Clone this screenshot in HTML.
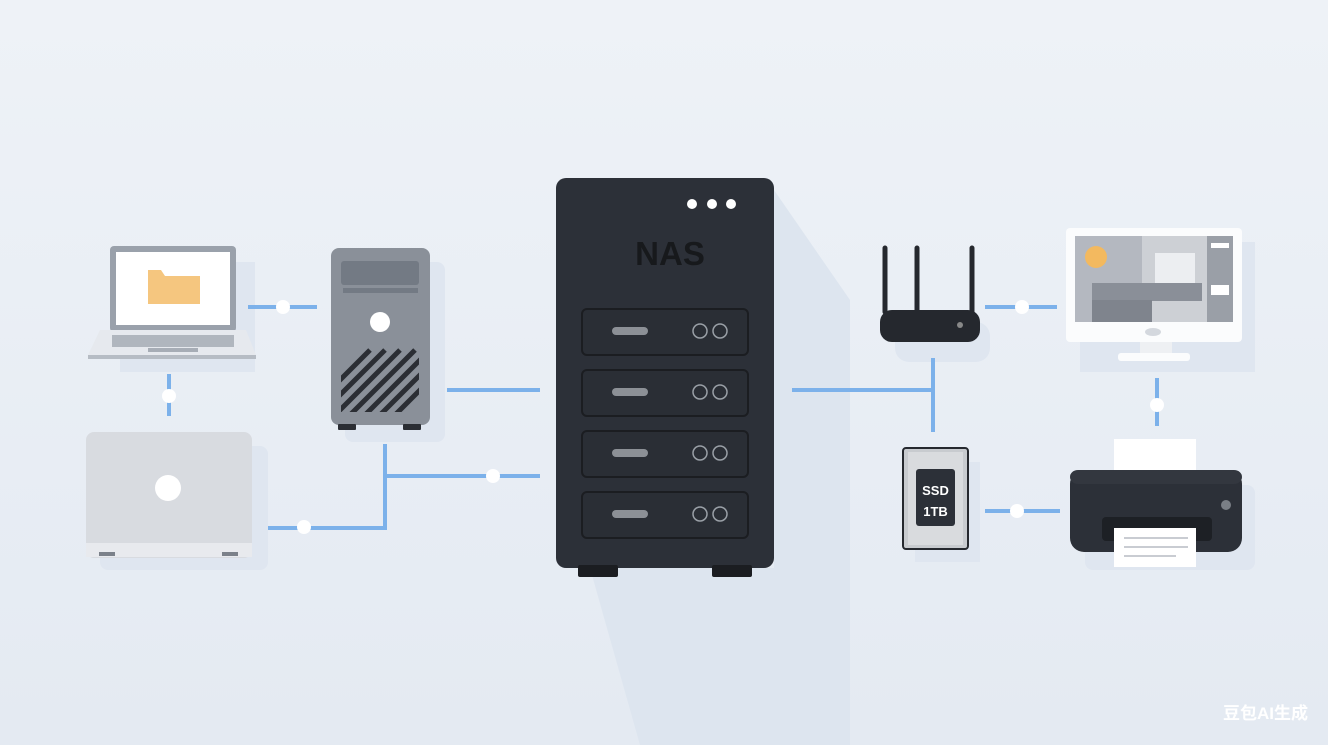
<!DOCTYPE html>
<html><head><meta charset="utf-8"><style>
html,body{margin:0;padding:0;width:1328px;height:745px;overflow:hidden;background:#e8edf3}
svg{display:block}
</style></head><body>
<svg width="1328" height="745" viewBox="0 0 1328 745" xmlns="http://www.w3.org/2000/svg">
<defs>
<linearGradient id="bg" x1="0" y1="0" x2="0" y2="1">
<stop offset="0" stop-color="#eef2f7"/><stop offset="1" stop-color="#e4eaf2"/></linearGradient>
</defs>
<rect width="1328" height="745" fill="url(#bg)"/>
<!-- shadows -->
<polygon points="774,190 850,300 850,745 640,745 590,568 774,568" fill="#dde5ef"/>
<rect x="120" y="262" width="135" height="110" fill="#dfe6f0"/>
<rect x="345" y="262" width="100" height="180" rx="8" fill="#dfe6f0"/>
<rect x="100" y="446" width="168" height="124" rx="8" fill="#dfe6f0"/>
<rect x="1080" y="242" width="175" height="130" fill="#dfe6f0"/>
<rect x="1085" y="485" width="170" height="85" rx="8" fill="#dfe6f0"/>
<rect x="915" y="462" width="65" height="100" fill="#dfe6f0"/>
<rect x="895" y="322" width="95" height="40" rx="14" fill="#dfe6f0"/>
<!-- connectors -->
<g stroke="#7cb1ea" stroke-width="4" fill="none">
<path d="M248 307H317"/><path d="M169 374V416"/>
<path d="M447 390H540"/><path d="M385 444V528H268"/><path d="M385 476H540"/>
<path d="M792 390H933"/><path d="M933 358V432"/>
<path d="M985 307H1057"/><path d="M1157 378V426"/><path d="M985 511H1060"/>
</g>
<g fill="#fff">
<circle cx="283" cy="307" r="7"/><circle cx="169" cy="396" r="7"/>
<circle cx="304" cy="527" r="7"/><circle cx="493" cy="476" r="7"/>
<circle cx="1022" cy="307" r="7"/><circle cx="1157" cy="405" r="7"/><circle cx="1017" cy="511" r="7"/>
</g>
<!-- laptop -->
<rect x="110" y="246" width="126" height="86" rx="4" fill="#9aa1ab"/>
<rect x="116" y="252" width="114" height="73" fill="#fff"/>
<path d="M148 270h13l4 6h35v28h-52z" fill="#f5c67f"/>
<path d="M100 330h146l10 25h-168z" fill="#e6e9ee"/>
<rect x="88" y="355" width="168" height="4" fill="#b6bcc4"/>
<rect x="112" y="335" width="122" height="12" fill="#b0b6be"/>
<rect x="148" y="348" width="50" height="4" fill="#a7adb6"/>
<!-- tower -->
<rect x="331" y="248" width="99" height="177" rx="8" fill="#8a9099"/>
<rect x="341" y="261" width="78" height="24" rx="3" fill="#737a84"/>
<rect x="343" y="288" width="75" height="5" fill="#737a84"/>
<circle cx="380" cy="322" r="10" fill="#fff"/>
<clipPath id="vent"><rect x="341" y="348" width="78" height="64"/></clipPath>
<rect x="341" y="348" width="78" height="64" fill="#8a9099"/>
<g clip-path="url(#vent)" stroke="#2b2e34" stroke-width="5">
<path d="M330 420L400 350M345 420L415 350M360 420L430 350M375 420L445 350M390 420L460 350M315 420L385 350M300 420L370 350"/>
</g>
<rect x="338" y="424" width="18" height="6" rx="1" fill="#2b2e34"/><rect x="403" y="424" width="18" height="6" rx="1" fill="#2b2e34"/>
<!-- drive box -->
<rect x="86" y="432" width="166" height="126" rx="8" fill="#d8dbe0"/>
<rect x="86" y="543" width="166" height="14" fill="#e8eaee"/>
<circle cx="168" cy="488" r="13" fill="#fff"/>
<rect x="99" y="552" width="16" height="4" fill="#7b818a"/><rect x="222" y="552" width="16" height="4" fill="#7b818a"/>
<!-- NAS -->
<rect x="556" y="178" width="218" height="390" rx="10" fill="#2c3038"/>
<circle cx="692" cy="204" r="5" fill="#fff"/><circle cx="712" cy="204" r="5" fill="#fff"/><circle cx="731" cy="204" r="5" fill="#fff"/>
<text x="670" y="265" text-anchor="middle" font-family="Liberation Sans,sans-serif" font-weight="bold" font-size="33" fill="#17191c">NAS</text>
<g id="bay">
<rect x="582" y="309" width="166" height="46" rx="5" fill="#2a2e35" stroke="#1b1d21" stroke-width="2"/>
<rect x="612" y="327" width="36" height="8" rx="4" fill="#8c9096"/>
<circle cx="700" cy="331" r="7" fill="none" stroke="#9aa0a7" stroke-width="1.5"/>
<circle cx="720" cy="331" r="7" fill="none" stroke="#9aa0a7" stroke-width="1.5"/>
</g>
<use href="#bay" y="61"/><use href="#bay" y="122"/><use href="#bay" y="183"/>
<rect x="578" y="565" width="40" height="12" rx="2" fill="#1b1d21"/><rect x="712" y="565" width="40" height="12" rx="2" fill="#1b1d21"/>
<!-- router -->
<g stroke="#25282e" stroke-width="5" stroke-linecap="round"><path d="M885 248V312M917 248V312M972 248V312"/></g>
<rect x="880" y="310" width="100" height="32" rx="12" fill="#25282e"/>
<circle cx="960" cy="325" r="3" fill="#888"/>
<!-- monitor -->
<rect x="1066" y="228" width="176" height="114" rx="4" fill="#fbfcfd"/>
<rect x="1075" y="236" width="158" height="86" fill="#b4b8c0"/>
<rect x="1142" y="236" width="65" height="86" fill="#cdd0d5"/>
<rect x="1207" y="236" width="26" height="86" fill="#9a9fa7"/>
<rect x="1155" y="253" width="40" height="30" fill="#eceef1"/>
<rect x="1092" y="283" width="110" height="18" fill="#8a8f98"/>
<rect x="1092" y="300" width="60" height="22" fill="#7f848d"/>
<circle cx="1096" cy="257" r="11" fill="#f3b95f"/>
<rect x="1211" y="243" width="18" height="5" fill="#fff"/><rect x="1211" y="285" width="18" height="10" fill="#fff"/>
<ellipse cx="1153" cy="332" rx="8" ry="4" fill="#d4d8de"/>
<rect x="1140" y="342" width="32" height="12" fill="#eef0f3"/>
<rect x="1118" y="353" width="72" height="8" rx="3" fill="#fbfcfd"/>
<!-- SSD -->
<rect x="903" y="448" width="65" height="101" rx="3" fill="#c8cbcf" stroke="#25282e" stroke-width="2"/>
<rect x="908" y="452" width="55" height="93" fill="#d9dbde"/>
<rect x="916" y="469" width="39" height="57" rx="3" fill="#2c3038"/>
<text x="935.5" y="495" text-anchor="middle" font-family="Liberation Sans,sans-serif" font-weight="bold" font-size="13" fill="#fff">SSD</text>
<text x="935.5" y="516" text-anchor="middle" font-family="Liberation Sans,sans-serif" font-weight="bold" font-size="13" fill="#fff">1TB</text>
<!-- printer -->
<rect x="1114" y="439" width="82" height="42" fill="#fff"/>
<rect x="1070" y="470" width="172" height="82" rx="14" fill="#2c3038"/>
<rect x="1070" y="470" width="172" height="14" rx="8" fill="#33373f"/>
<rect x="1102" y="517" width="110" height="24" rx="4" fill="#1d2025"/>
<circle cx="1226" cy="505" r="5" fill="#7a7f86"/>
<rect x="1114" y="528" width="82" height="39" fill="#fff"/>
<g stroke="#c9ccd2" stroke-width="2"><path d="M1124 538H1188M1124 547H1188M1124 556H1176"/></g>
<!-- watermark -->
<text x="1308" y="719" text-anchor="end" font-family="Liberation Sans,'Noto Sans CJK SC',sans-serif" font-weight="bold" font-size="17" fill="#fff">豆包AI生成</text>
</svg>
</body></html>
